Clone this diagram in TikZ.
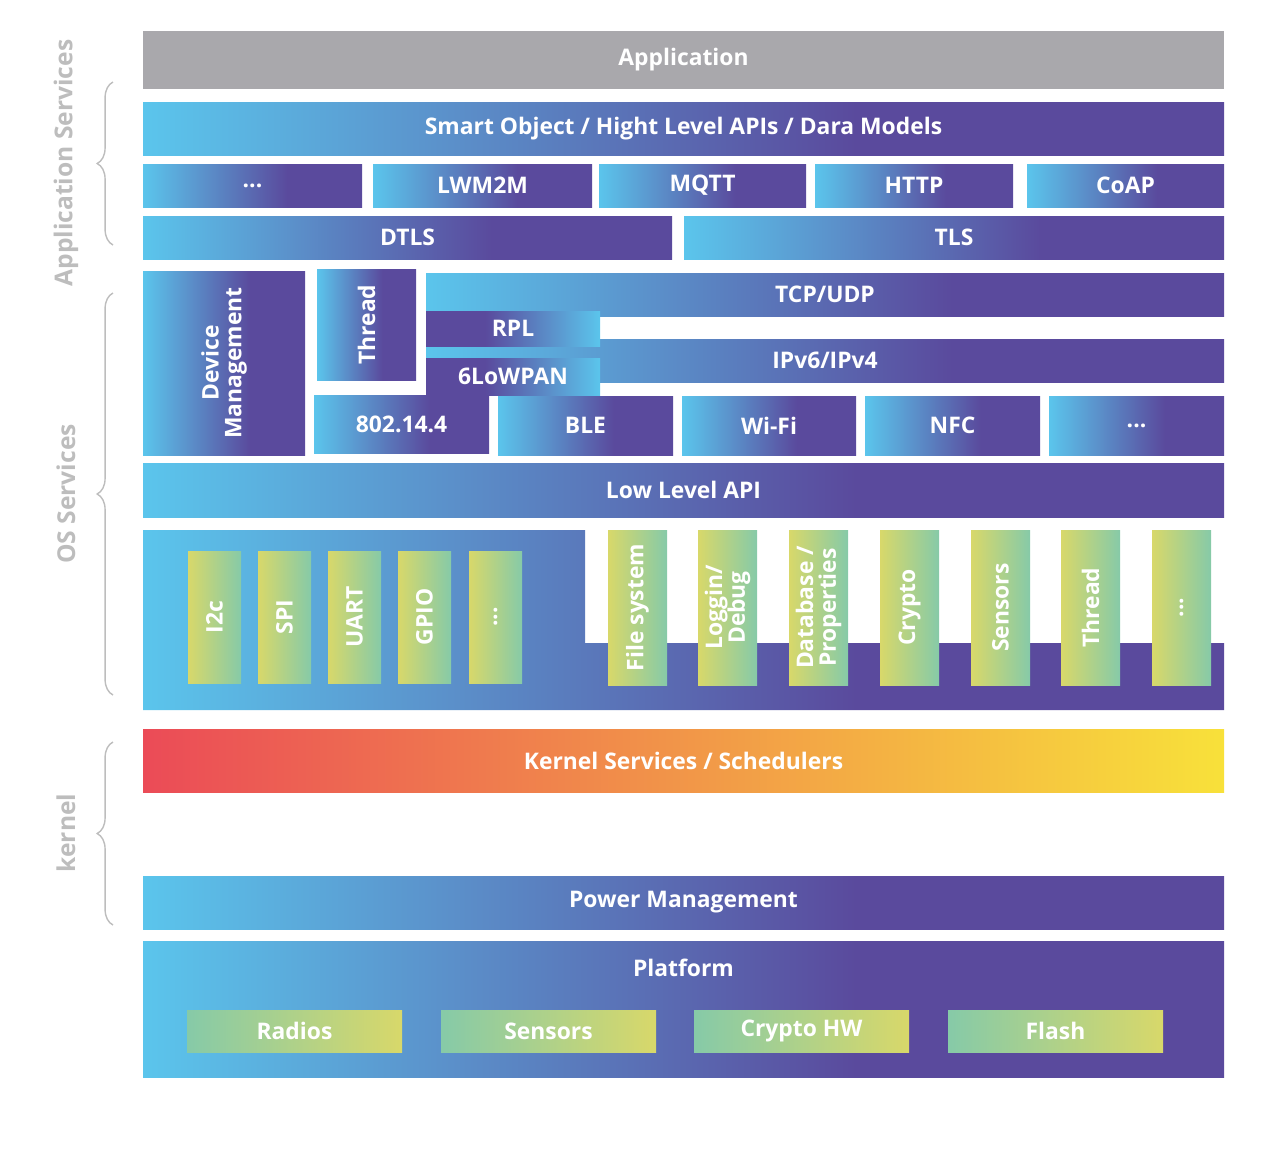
\documentclass[tikz,border=0pt]{standalone}
\usepackage{fontspec}
\setmainfont{Open Sans}
\usetikzlibrary{decorations.pathreplacing}
\definecolor{lb}{HTML}{5BC5EC}
\definecolor{pu}{HTML}{5A4A9D}
\definecolor{gr}{HTML}{86CAA8}
\definecolor{ye}{HTML}{D8D86A}
\definecolor{kr}{HTML}{EB4B57}
\definecolor{ko}{HTML}{F09A50}
\definecolor{ky}{HTML}{F8E13A}
\definecolor{ap}{HTML}{A9A8AC}
\definecolor{sg}{HTML}{BDBDBD}
\pgfdeclarehorizontalshading{bp}{100bp}{color(0bp)=(lb); color(25bp)=(lb); color(58bp)=(pu); color(100bp)=(pu)}
% horizontal block: name, x1, y1, x2, y2, style, text
\newcommand\blk[7]{\node[box,#6,minimum width={(#4-#2)*0.02cm},minimum height={(#5-#3)*0.02cm}] (#1) at ({(#2+#4)/2},{(#3+#5)/2}) {#7};}
% vertical block with rotated text
\newcommand\vblk[7]{\node[box,rotate=90,#6,minimum height={(#4-#2)*0.02cm},minimum width={(#5-#3)*0.02cm}] (#1) at ({(#2+#4)/2},{(#3+#5)/2}) {#7};}
\tikzset{
  box/.style={inner sep=0pt,outer sep=0pt,text=white,font=\fontsize{13}{13}\selectfont\bfseries,align=center},
  bar/.style={shading=bp},
  gy/.style={left color=ye,right color=gr},
  gh/.style={left color=gr,right color=ye},
  side/.style={text=sg,font=\fontsize{14}{14}\selectfont\bfseries,rotate=90},
  brc/.style={draw=sg,line width=0.8pt,decorate,decoration={brace,amplitude=9pt}}
}
\begin{document}
\begin{tikzpicture}[x=0.02cm,y=-0.02cm]
\useasboundingbox (0,0) rectangle (1280,1164);
% application services
\blk{app}{143}{31}{1224}{89}{fill=ap}{Application}
\blk{smart}{143}{102}{1224}{155}{bar}{Smart Object / Hight Level APIs / Dara Models}
\blk{dots1}{143}{164}{362}{207}{bar}{...}
\blk{lwm}{373}{164}{592}{207}{bar}{LWM2M}
\blk{mqtt}{599}{164}{806}{207}{bar}{MQTT}
\blk{http}{815}{164}{1013}{207}{bar}{HTTP}
\blk{coap}{1027}{164}{1224}{207}{bar}{CoAP}
\blk{dtls}{143}{216}{672}{259}{bar}{DTLS}
\blk{tls}{684}{216}{1224}{259}{bar}{TLS}
% network stack
\vblk{devm}{143}{271}{305}{455}{bar}{Device\\Management}
\vblk{thr}{317}{269}{416}{380}{bar}{Thread}
\blk{tcp}{426}{273}{1224}{316}{bar}{TCP/UDP}
\blk{ip}{426}{339}{1224}{382}{bar}{IPv6/IPv4}
\blk{rpl}{426}{311}{600}{346}{bar,shading angle=180}{RPL}
\blk{low}{426}{358}{600}{395}{bar,shading angle=180}{6LoWPAN}
\blk{ieee}{314}{395}{489}{453}{bar}{802.14.4}
\blk{ble}{498}{396}{673}{455}{bar}{BLE}
\blk{wifi}{682}{396}{856}{455}{bar}{Wi-Fi}
\blk{nfc}{865}{396}{1040}{455}{bar}{NFC}
\blk{dots2}{1049}{396}{1224}{455}{bar}{...}
\blk{lla}{143}{463}{1224}{517}{bar}{Low Level API}
% drivers and services
\shade[shading=bp] (143,530) -- (585,530) -- (585,643) -- (1224,643) -- (1224,710) -- (143,710) -- cycle;
\vblk{i2c}{188}{551}{241}{683}{gy}{I2c}
\vblk{spi}{258}{551}{311}{683}{gy}{SPI}
\vblk{uart}{328}{551}{381}{683}{gy}{UART}
\vblk{gpio}{398}{551}{451}{683}{gy}{GPIO}
\vblk{dots3}{469}{551}{522}{683}{gy}{...}
\vblk{fs}{608}{530}{667}{685}{gy}{File system}
\vblk{log}{698}{530}{757}{685}{gy}{Loggin/\\Debug}
\vblk{db}{789}{530}{848}{685}{gy}{Database /\\Properties}
\vblk{cry}{880}{530}{939}{685}{gy}{Crypto}
\vblk{sen}{971}{530}{1030}{685}{gy}{Sensors}
\vblk{thr2}{1061}{530}{1120}{685}{gy}{Thread}
\vblk{dots4}{1152}{530}{1211}{685}{gy}{...}
% kernel
\blk{kern}{143}{729}{1224}{792}{left color=kr,middle color=ko,right color=ky}{Kernel Services / Schedulers}
\blk{pwr}{143}{876}{1224}{929}{bar}{Power Management}
\blk{plat}{143}{941}{1224}{1077}{bar,label={[box,anchor=center]90:{}}}{}
\node[box] (platt) at (plat.north) [yshift=-0.54cm] {Platform};
\blk{rad}{187}{1010}{402}{1052}{gh}{Radios}
\blk{sens}{441}{1010}{656}{1052}{gh}{Sensors}
\blk{chw}{694}{1010}{909}{1052}{gh}{Crypto HW}
\blk{fl}{948}{1010}{1163}{1052}{gh}{Flash}
% side labels
\draw[brc] (113,245) -- (113,82);
\node[side] (as) at (66,163) {Application Services};
\draw[brc] (113,695) -- (113,293);
\node[side] (os) at (66,494) {OS Services};
\draw[brc] (113,925) -- (113,742);
\node[side] (kl) at (66,833) {kernel};
\end{tikzpicture}
\end{document}
